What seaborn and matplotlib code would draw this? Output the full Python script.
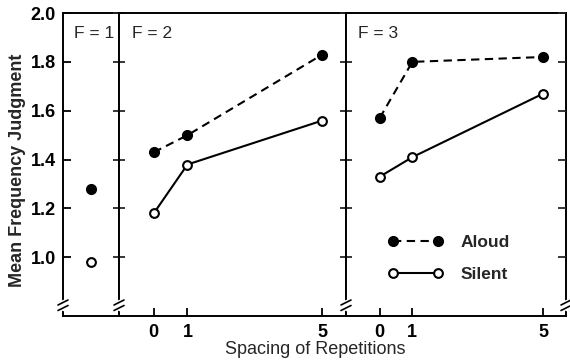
import numpy as np
import pandas as pd
import matplotlib
matplotlib.use("Agg")
import matplotlib.pyplot as plt
from matplotlib.lines import Line2D
import seaborn as sns

# ---- data ----
spacing = [0, 1, 5]
spacing_labels = ["0", "1", "5"]
f1_aloud = [1.28]
f1_silent = [0.98]
f2_aloud = [1.43, 1.50, 1.83]
f2_silent = [1.18, 1.38, 1.56]
f3_aloud = [1.57, 1.80, 1.82]
f3_silent = [1.33, 1.41, 1.67]
yticks = [1.0, 1.2, 1.4, 1.6, 1.8, 2.0]
ytick_labels = ["1.0", "1.2", "1.4", "1.6", "1.8", "2.0"]
panel_titles = ["F = 1", "F = 2", "F = 3"]
conditions = ["Aloud", "Silent"]

sns.set_style("white")
plt.rcParams["font.family"] = ["Liberation Sans", "DejaVu Sans"]
FS = 12.5
TW = "bold"

W, H = 570, 362
fig = plt.figure(figsize=(W / 100, H / 100), dpi=100)

TOP, BOT = 13, 316
def rect(x0, x1):
    return [x0 / W, 1 - BOT / H, (x1 - x0) / W, (BOT - TOP) / H]

ax1 = fig.add_axes(rect(63, 119))
ax2 = fig.add_axes(rect(119, 346))
ax3 = fig.add_axes(rect(346, 566))

style = {
    "Aloud": dict(marker="o", markersize=6.8, markerfacecolor="black",
                  markeredgecolor="black", markeredgewidth=1.2,
                  linestyle=(0, (4, 2.6)), color="black", linewidth=1.5),
    "Silent": dict(marker="o", markersize=6.3, markerfacecolor="white",
                   markeredgecolor="black", markeredgewidth=1.5,
                   linestyle="-", color="black", linewidth=1.5),
}

panels = [
    (ax1, [0], f1_aloud, f1_silent),
    (ax2, spacing, f2_aloud, f2_silent),
    (ax3, spacing, f3_aloud, f3_silent),
]

for ax, xs, al, si in panels:
    for cond, vals in zip(conditions, [al, si]):
        df = pd.DataFrame({"Spacing": xs, "Judgment": vals})
        sns.lineplot(data=df, x="Spacing", y="Judgment", ax=ax, label=cond,
                     legend=False, **style[cond])
    ax.set_ylim(0.76, 2.0)
    ax.set_yticks(yticks)
    ax.set_xlabel("")
    ax.set_ylabel("")
    for sp in ax.spines.values():
        sp.set_linewidth(1.4)
        sp.set_color("black")

ax1.set_xlim(-1, 1)
ax1.set_xticks([])
ax1.set_yticklabels(ytick_labels, fontsize=FS + 0.5, fontweight=TW)
ax1.tick_params(axis="y", direction="in", length=6, width=1.3, left=True,
                right=False, pad=5, colors="black")

for ax in (ax2, ax3):
    ax.set_xlim(-1.03, 5.7)
    ax.set_xticks(spacing)
    ax.set_xticklabels(spacing_labels, fontsize=FS + 0.5, fontweight=TW)
    ax.tick_params(axis="x", direction="in", length=6, width=1.3, bottom=True,
                   pad=6, colors="black")
    ax.tick_params(axis="y", direction="inout", length=8, width=1.3, left=True,
                   right=False, labelleft=False)

ax3r = ax3.twinx()
ax3r.set_ylim(ax3.get_ylim())
ax3r.set_yticks(yticks)
ax3r.tick_params(axis="y", direction="in", length=6, width=1.3, right=True,
                 labelright=False)
for sp in ax3r.spines.values():
    sp.set_visible(False)
ax3r.grid(False)

# panel titles
ty = (BOT - 33) / (BOT - TOP)
ax1.text(11 / 56, ty, panel_titles[0], transform=ax1.transAxes,
         fontsize=FS, va="center", ha="left")
ax2.text(13 / 227, ty, panel_titles[1], transform=ax2.transAxes,
         fontsize=FS, va="center", ha="left")
ax3.text(12 / 220, ty, panel_titles[2], transform=ax3.transAxes,
         fontsize=FS, va="center", ha="left")

# legend
h, l = ax3.get_legend_handles_labels()
ax3.legend(h, l, loc="center left", bbox_to_anchor=(0.19, 0.19), frameon=False,
           handlelength=3.2, numpoints=2, labelspacing=0.95,
           handletextpad=1.0, borderpad=0, borderaxespad=0,
           prop={"size": FS, "weight": "bold"})

# axis labels
fig.text(18 / W, 1 - 170 / H, "Mean Frequency Judgment", rotation=90,
         ha="center", va="center", fontsize=FS + 0.5, fontweight="bold")
fig.text(315 / W, 1 - 349 / H, "Spacing of Repetitions", ha="center",
         va="center", fontsize=FS + 0.5)

# axis break marks
for xb in [63, 119, 346, 566]:
    fig.add_artist(Line2D([xb / W, xb / W], [1 - 309 / H, 1 - 301 / H],
                          color="white", linewidth=2.5, zorder=5,
                          transform=fig.transFigure))
    for yb in (302.5, 308):
        fig.add_artist(Line2D([(xb - 5) / W, (xb + 5) / W],
                              [1 - (yb + 2.5) / H, 1 - (yb - 2.5) / H],
                              color="black", linewidth=1.2, zorder=6,
                              transform=fig.transFigure))

fig.savefig("out.png", dpi=100)
